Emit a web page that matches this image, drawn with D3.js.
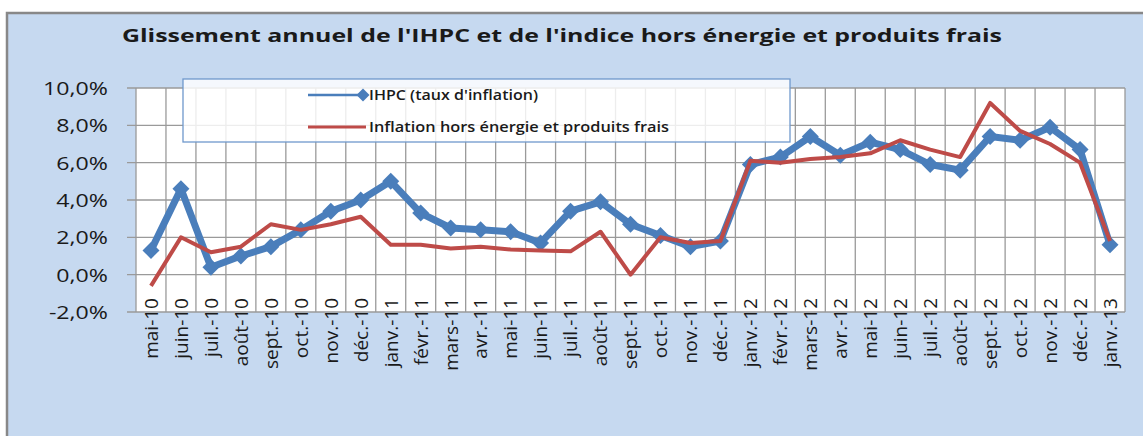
<!DOCTYPE html>
<html>
<head>
<meta charset="utf-8">
<script src="https://cdn.jsdelivr.net/npm/d3@7"></script>
<style>
  body { margin: 0; background: #fff; }
  text { font-family: "Open Sans", "Noto Sans", sans-serif; fill: #1a1a1a; }
</style>
</head>
<body>
<div id="chart"></div>
<script>
// data (%)
const months = ["mai-10","juin-10","juil.-10","août-10","sept.-10","oct.-10","nov.-10","déc.-10",
  "janv.-11","févr.-11","mars-11","avr.-11","mai-11","juin-11","juil.-11","août-11","sept.-11",
  "oct.-11","nov.-11","déc.-11","janv.-12","févr.-12","mars-12","avr.-12","mai-12","juin-12",
  "juil.-12","août-12","sept.-12","oct.-12","nov.-12","déc.-12","janv.-13"]
const ihpc = [1.3,4.6,0.4,1.0,1.5,2.4,3.4,4.0,5.0,3.3,2.5,2.4,2.3,1.7,3.4,3.9,2.7,2.1,1.5,1.8,
  5.9,6.3,7.4,6.4,7.1,6.7,5.9,5.6,7.4,7.2,7.9,6.7,1.6]
const core = [-0.6,2.0,1.2,1.5,2.7,2.4,2.7,3.1,1.6,1.6,1.4,1.5,1.35,1.3,1.25,2.3,0.0,2.0,1.7,1.8,
  6.1,6.0,6.2,6.3,6.5,7.2,6.7,6.3,9.2,7.7,7.0,6.0,1.8]
const yTicks = [-2,0,2,4,6,8,10]
const seriesNames = ["IHPC (taux d'inflation)", "Inflation hors énergie et produits frais"]
const title = "Glissement annuel de l'IHPC et de l'indice hors énergie et produits frais"

const width = 1143, height = 436
const blue = "#4a7ebb", red = "#be4b48", grid = "#9a9a9a"
const fmt = v => v.toFixed(1).replace(".", ",") + "%"

let svg = d3.select("#chart").append("svg")
    .attr("width", width)
    .attr("height", height)

// outer chart frame
svg.append("rect")
    .attr("x", 7).attr("y", 13)
    .attr("width", width).attr("height", height)
    .attr("fill", "#c6d9f0")
    .attr("stroke", "#888").attr("stroke-width", 2.5)

svg.append("text")
    .attr("x", 122).attr("y", 42)
    .attr("textLength", 880).attr("lengthAdjust", "spacingAndGlyphs")
    .style("font-size", "18px").style("font-weight", "bold")
    .text(title)

const x = d3.scaleBand().domain(months).range([136, 1125])
const y = d3.scaleLinear().domain([-2, 10]).range([312, 88])

// plot area
svg.append("rect")
    .attr("x", 136).attr("y", 88)
    .attr("width", 989).attr("height", 224)
    .attr("fill", "#fff")

let gGrid = svg.append("g").attr("stroke", grid).attr("stroke-width", 1.3)
gGrid.selectAll("line.h")
    .data(yTicks)
    .enter().append("line")
    .attr("class", "h")
    .attr("x1", 127).attr("x2", 1125)
    .attr("y1", d => y(d)).attr("y2", d => y(d))
gGrid.selectAll("line.v")
    .data(months.concat(["__end"]))
    .enter().append("line")
    .attr("class", "v")
    .attr("x1", (d, i) => 136 + i * x.step())
    .attr("x2", (d, i) => 136 + i * x.step())
    .attr("y1", 88).attr("y2", 312)

// y labels
svg.append("g").selectAll("text")
    .data(yTicks)
    .enter().append("text")
    .attr("transform", d => `translate(108,${y(d)}) scale(1.22,1)`)
    .attr("dy", "0.36em")
    .attr("text-anchor", "end")
    .style("font-size", "19px")
    .text(fmt)

// category labels, rotated
svg.append("g").selectAll("text")
    .data(months)
    .enter().append("text")
    .attr("transform", d => `translate(${x(d) + x.bandwidth() / 2},298) rotate(-90)`)
    .attr("dy", "0.36em")
    .attr("text-anchor", "end")
    .style("font-size", "19px")
    .text(d => d)

// legend box
const lg = svg.append("g")
lg.append("rect")
    .attr("x", 183).attr("y", 79)
    .attr("width", 607).attr("height", 63)
    .attr("fill", "#fff").attr("fill-opacity", 0.82)
    .attr("stroke", "#6f98cc").attr("stroke-width", 1.3)

const diamond = r => `M0,${-r}L${r},0L0,${r}L${-r},0Z`

const line = d3.line()
    .x((d, i) => x(months[i]) + x.bandwidth() / 2)
    .y(d => y(d))

svg.append("path")
    .datum(ihpc)
    .attr("d", line)
    .attr("fill", "none")
    .attr("stroke", blue).attr("stroke-width", 7)
    .attr("stroke-linejoin", "round")

svg.append("g").selectAll("path")
    .data(ihpc)
    .enter().append("path")
    .attr("transform", (d, i) => `translate(${x(months[i]) + x.bandwidth() / 2},${y(d)})`)
    .attr("d", diamond(8.5))
    .attr("fill", blue)

svg.append("path")
    .datum(core)
    .attr("d", line)
    .attr("fill", "none")
    .attr("stroke", red).attr("stroke-width", 4)
    .attr("stroke-linejoin", "round")

// legend entries
lg.append("line")
    .attr("x1", 308).attr("x2", 363).attr("y1", 95).attr("y2", 95)
    .attr("stroke", blue).attr("stroke-width", 2.5)
lg.append("path")
    .attr("transform", "translate(363,95)")
    .attr("d", diamond(6.5))
    .attr("fill", blue)
lg.append("line")
    .attr("x1", 308).attr("x2", 366).attr("y1", 127).attr("y2", 127)
    .attr("stroke", red).attr("stroke-width", 3)

lg.selectAll("text")
    .data(seriesNames)
    .enter().append("text")
    .attr("x", 369)
    .attr("y", (d, i) => i ? 127 : 95)
    .attr("dy", "0.36em")
    .attr("textLength", (d, i) => i ? 300 : 169)
    .attr("lengthAdjust", "spacingAndGlyphs")
    .style("font-size", "13.5px").style("font-weight", "600")
    .text(d => d)
</script>
</body>
</html>
